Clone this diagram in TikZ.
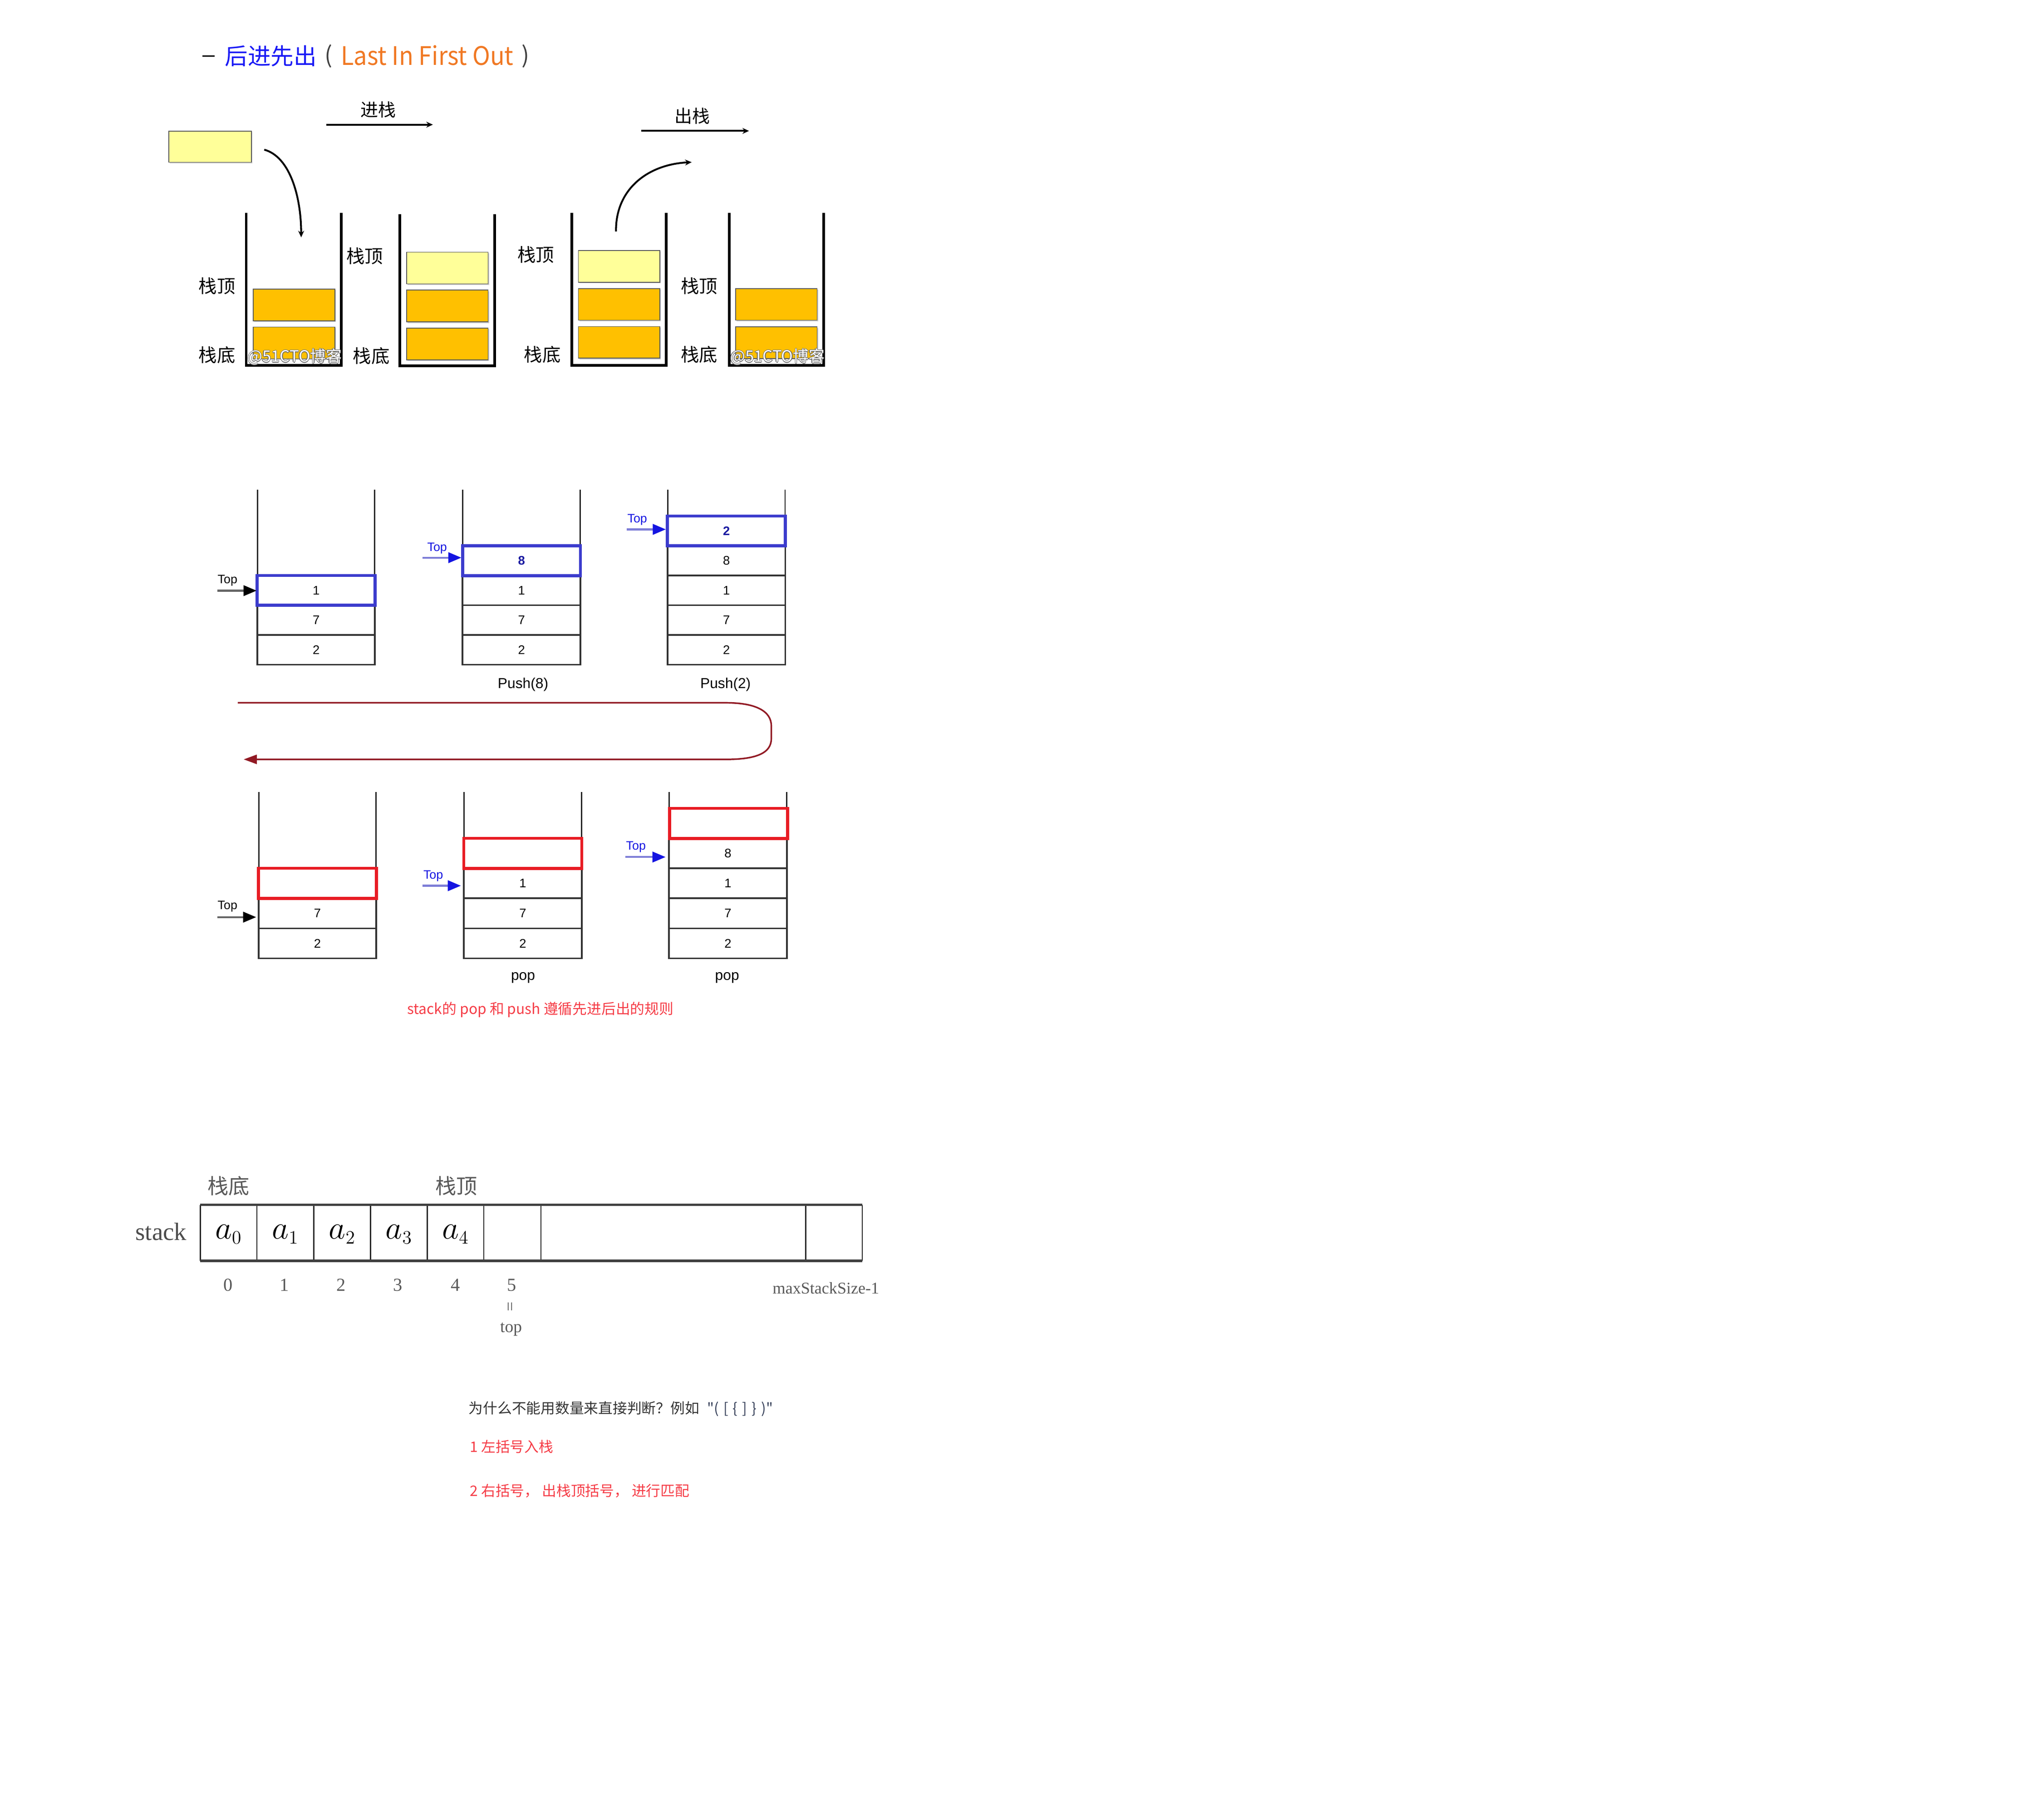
\documentclass[tikz,border=0pt]{standalone}
\usepackage{fontspec}
\setmainfont{Liberation Sans}
\newfontfamily\cjk{Noto Sans CJK SC}
\newfontfamily\srf{Liberation Serif}
\usetikzlibrary{arrows.meta,shadows}
\definecolor{titleblue}{RGB}{25,25,245}
\definecolor{titleorange}{RGB}{240,120,35}
\definecolor{boxorange}{RGB}{255,192,0}
\definecolor{boxyellow}{RGB}{255,255,153}
\definecolor{cellblue}{RGB}{60,60,205}
\definecolor{cellred}{RGB}{232,28,36}
\definecolor{topblue}{RGB}{20,20,225}
\definecolor{numblue}{RGB}{25,25,160}
\definecolor{shaftblue}{RGB}{125,125,215}
\definecolor{retred}{RGB}{145,25,35}
\definecolor{notered}{RGB}{245,60,70}
\definecolor{qgray}{RGB}{51,51,51}
\definecolor{codecol}{RGB}{55,65,90}
\begin{document}
\begin{tikzpicture}[x=0.995pt,y=-0.995pt,
  every node/.style={inner sep=0pt,outer sep=0pt},
  wall/.style={line width=2pt,line join=miter,black},
  blk/.style={draw=black!65,line width=0.6pt,minimum width=62.2pt,minimum height=24.2pt,
     drop shadow={shadow xshift=0.8pt,shadow yshift=-0.8pt,fill=black!35,opacity=0.6}},
  oblk/.style={blk,fill=boxorange},
  yblk/.style={blk,fill=boxyellow},
  cjklab/.style={font=\cjk\fontsize{14}{14}\selectfont},
  opline/.style={line width=1.4pt,-{Stealth[length=5pt,width=4.5pt]}},
  curvearr/.style={line width=1.4pt,-{Stealth[length=5pt,width=4.5pt]}},
  thinwall/.style={line width=1pt,black!85,line join=miter},
  cell/.style={draw=black!80,line width=1.2pt,minimum width=90pt,minimum height=22.8pt,
     font=\fontsize{9.5}{9.5}\selectfont},
  bluecell/.style={cell,draw=cellblue,line width=2.3pt},
  redcell/.style={cell,draw=cellred,line width=2.3pt},
  toplab/.style={font=\fontsize{9.3}{9.3}\selectfont},
  topblk/.style={draw=black!60,line width=1.5pt,-{Triangle[length=10pt,width=8pt,color=black]}},
  topblu/.style={draw=shaftblue,line width=1.5pt,-{Triangle[length=10pt,width=8pt,color=topblue]}},
  caplab/.style={font=\fontsize{11}{11}\selectfont},
  retline/.style={draw=retred,line width=1.2pt,-{Triangle[length=10pt,width=7pt]}},
  wmk/.style={font=\cjk\fontsize{12}{12}\selectfont},
  arrlab/.style={font=\srf\fontsize{14}{14}\selectfont,text=black!65},
  note/.style={font=\cjk\fontsize{11}{11}\selectfont,anchor=west}
]
\useasboundingbox (0,0) rectangle (1567.8,1392);

% ---------- title ----------
\node (dash) at (160,43) {\rule{9.5pt}{1.2pt}};
\node[font=\cjk\fontsize{17.5}{17.5}\selectfont,text=titleblue,anchor=west] (lifo) at (172.5,43) {后进先出};
\node[font=\cjk\fontsize{17.5}{17.5}\selectfont,text=black!75] (lpar) at (252,43) {(};
\node[font=\cjk\fontsize{19.5}{19.5}\selectfont,text=titleorange,anchor=west] (lifoen) at (261.5,42.5) {\scalebox{0.93}[1]{Last In First Out}};
\node[font=\cjk\fontsize{17.5}{17.5}\selectfont,text=black!75] (rpar) at (403,43) {)};

% ---------- push / pop arrows ----------
\node[font=\cjk\fontsize{13.5}{13.5}\selectfont] (pushlab) at (290,84) {进栈};
\coordinate (pushs) at (250.4,95.6);
\coordinate (pushe) at (332,95.6);
\draw[opline] (pushs) -- (pushe);
\node[font=\cjk\fontsize{13.5}{13.5}\selectfont] (poplab) at (531,89) {出栈};
\coordinate (pops) at (491.9,100.4);
\coordinate (pope) at (574.5,100.4);
\draw[opline] (pops) -- (pope);

% new element
\node[yblk,minimum width=63pt,minimum height=23.8pt] (newel) at (161.1,112.45) {};
\coordinate (c1s) at (202.7,114.8);
\coordinate (c1e) at (231,182);
\draw[curvearr] (c1s) .. controls (222,120) and (231,150) .. (c1e);
\coordinate (c2s) at (472.5,177.5);
\coordinate (c2e) at (530.5,124.4);
\draw[curvearr] (c2s) .. controls (472,145) and (497,126) .. (c2e);

% containers
\draw[wall] (188.8,163.1) -- (188.8,280.1) -- (261.7,280.1) -- (261.7,163.1);
\draw[wall] (306.7,164.2) -- (306.7,280.6) -- (379.3,280.6) -- (379.3,164.2);
\draw[wall] (438.6,163.1) -- (438.6,280.1) -- (510.9,280.1) -- (510.9,163.1);
\draw[wall] (559.5,163.1) -- (559.5,280.1) -- (631.8,280.1) -- (631.8,163.1);

% blocks
\node[oblk] (s1b2) at (225.55,233.85) {};
\node[oblk] (s1b1) at (225.55,263.0) {};
\node[yblk] (s2b3) at (343.15,205.55) {};
\node[oblk] (s2b2) at (343.15,234.7) {};
\node[oblk] (s2b1) at (343.15,263.75) {};
\node[yblk] (s3b3) at (474.85,204.35) {};
\node[oblk] (s3b2) at (474.85,233.45) {};
\node[oblk] (s3b1) at (474.85,262.6) {};
\node[oblk] (s4b2) at (595.5,233.45) {};
\node[oblk] (s4b1) at (595.5,262.85) {};

% labels
\node[cjklab] (t1) at (166.4,219.4) {栈顶};
\node[cjklab] (b1) at (166.4,272.2) {栈底};
\node[cjklab] (t2) at (279.8,196.3) {栈顶};
\node[cjklab] (b2) at (284.8,273) {栈底};
\node[cjklab] (t3) at (411,195.4) {栈顶};
\node[cjklab] (b3) at (416,272) {栈底};
\node[cjklab] (t4) at (536.4,219.4) {栈顶};
\node[cjklab] (b4) at (536.4,272) {栈底};

% watermarks
\foreach \dx/\dy in {-0.5/0,0.5/0,0/-0.5,0/0.5} {
  \node[wmk,text=black!60,xshift=\dx pt,yshift=\dy pt] at (226,273.6) {@51CTO博客};
  \node[wmk,text=black!60,xshift=\dx pt,yshift=\dy pt] at (596.3,273.6) {@51CTO博客};
}
\node[wmk,text=white] (wm1) at (226,273.6) {@51CTO博客};
\node[wmk,text=white] (wm2) at (596.3,273.6) {@51CTO博客};

% ---------- row 1 (push) ----------
\draw[thinwall] (197.5,375.5) -- (197.5,509.8) -- (287.5,509.8) -- (287.5,375.5);
\node[cell] (a2) at (242.5,498.4) {2};
\node[cell] (a7) at (242.5,475.6) {7};
\node[bluecell] (a1) at (242.5,452.8) {1};
\node[toplab] (atop) at (174.5,445.3) {Top};
\coordinate (aas) at (166.8,453);
\coordinate (aae) at (196.8,453);
\draw[topblk] (aas) -- (aae);

\draw[thinwall] (355,375.5) -- (355,509.8) -- (445,509.8) -- (445,375.5);
\node[cell] (b2c) at (400,498.4) {2};
\node[cell] (b7c) at (400,475.6) {7};
\node[cell] (b1c) at (400,452.8) {1};
\node[bluecell,font=\bfseries\fontsize{9.5}{9.5}\selectfont,text=numblue] (b8c) at (400,430) {8};
\node[toplab,text=topblue] (btop) at (335.3,420.5) {Top};
\coordinate (bas) at (323.9,427.7);
\coordinate (bae) at (353.9,427.7);
\draw[topblu] (bas) -- (bae);
\node[caplab] (push8) at (401.2,525) {Push(8)};

\draw[thinwall] (512.2,375.5) -- (512.2,509.8) -- (602.2,509.8) -- (602.2,375.5);
\node[cell] (c2c) at (557.2,498.4) {2};
\node[cell] (c7c) at (557.2,475.6) {7};
\node[cell] (c1c) at (557.2,452.8) {1};
\node[cell] (c8c) at (557.2,430) {8};
\node[bluecell,font=\bfseries\fontsize{9.5}{9.5}\selectfont,text=numblue] (c2t) at (557.2,407.2) {2};
\node[toplab,text=topblue] (ctop) at (488.8,398.5) {Top};
\coordinate (cas) at (480.7,406);
\coordinate (cae) at (510.7,406);
\draw[topblu] (cas) -- (cae);
\node[caplab] (push2) at (556.5,525) {Push(2)};

% return arrow
\coordinate (rs) at (182.4,539);
\coordinate (re) at (186.9,582.4);
\draw[retline] (rs) -- (557,539) .. controls (580,539) and (591.6,545.6) .. (591.6,556.6)
  -- (591.6,566.6) .. controls (591.6,577.6) and (580,582.4) .. (557,582.4) -- (re);

% ---------- row 2 (pop) ----------
\draw[thinwall] (198.5,607.5) -- (198.5,735) -- (288.5,735) -- (288.5,607.5);
\node[cell,minimum height=23pt] (d2) at (243.5,723.5) {2};
\node[cell,minimum height=23pt] (d7) at (243.5,700.5) {7};
\node[redcell,minimum height=23pt] (dr) at (243.5,677.5) {};
\node[toplab] (dtop) at (174.5,695.3) {Top};
\coordinate (das) at (166.8,703.4);
\coordinate (dae) at (196.5,703.4);
\draw[topblk] (das) -- (dae);

\draw[thinwall] (356,607.5) -- (356,735) -- (446,735) -- (446,607.5);
\node[cell,minimum height=23pt] (e2) at (401,723.5) {2};
\node[cell,minimum height=23pt] (e7) at (401,700.5) {7};
\node[cell,minimum height=23pt] (e1) at (401,677.5) {1};
\node[redcell,minimum height=23pt] (er) at (401,654.5) {};
\node[toplab,text=topblue] (etop) at (332.3,671.7) {Top};
\coordinate (eas) at (323.9,679.3);
\coordinate (eae) at (353.5,679.3);
\draw[topblu] (eas) -- (eae);
\node[caplab] (pop1) at (401.2,750) {pop};

\draw[thinwall] (513.3,607.5) -- (513.3,735) -- (603.3,735) -- (603.3,607.5);
\node[cell,minimum height=23pt] (f2) at (558.3,723.5) {2};
\node[cell,minimum height=23pt] (f7) at (558.3,700.5) {7};
\node[cell,minimum height=23pt] (f1) at (558.3,677.5) {1};
\node[cell,minimum height=23pt] (f8) at (558.3,654.5) {8};
\node[redcell,minimum height=23pt] (fr) at (558.8,631.5) {};
\node[toplab,text=topblue] (ftop) at (487.8,649.7) {Top};
\coordinate (fas) at (479.8,657.3);
\coordinate (fae) at (510.5,657.3);
\draw[topblu] (fas) -- (fae);
\node[caplab] (pop2) at (557.7,750) {pop};

\node[font=\cjk\fontsize{11}{11}\selectfont,text=notered] (rule) at (414.5,774.5) {stack的 pop 和 push 遵循先进后出的规则};

% ---------- array ----------
\foreach \xx in {153.6,197,240.8,284.2,327.7,371.1,414.9,618,661.4}
  \draw[line width=0.9pt,black!85] (\xx,924) -- (\xx,967);
\draw[line width=2pt,black!75] (153.6,924) -- (661.4,924);
\draw[line width=2pt,black!75] (153.6,967) -- (661.4,967);
\node[font=\fontsize{30}{30}\selectfont] (a0n) at (175.3,946.5) {$a_{\scriptscriptstyle 0}$};
\node[font=\fontsize{30}{30}\selectfont] (a1n) at (218.9,946.5) {$a_{\scriptscriptstyle 1}$};
\node[font=\fontsize{30}{30}\selectfont] (a2n) at (262.5,946.5) {$a_{\scriptscriptstyle 2}$};
\node[font=\fontsize{30}{30}\selectfont] (a3n) at (306,946.5) {$a_{\scriptscriptstyle 3}$};
\node[font=\fontsize{30}{30}\selectfont] (a4n) at (349.4,946.5) {$a_{\scriptscriptstyle 4}$};
\node[font=\srf\fontsize{19}{19}\selectfont,text=black!70] (stk) at (123.5,944.5) {stack};
\node[font=\cjk\fontsize{16}{16}\selectfont,text=black!65] (bot) at (175.4,909.5) {栈底};
\node[font=\cjk\fontsize{16}{16}\selectfont,text=black!65] (topc) at (350,909.5) {栈顶};
\node[arrlab] (i0) at (175.1,985.5) {0};
\node[arrlab] (i1) at (218.2,985.5) {1};
\node[arrlab] (i2) at (261.6,985.5) {2};
\node[arrlab] (i3) at (305,985.5) {3};
\node[arrlab] (i4) at (349.2,985.5) {4};
\node[arrlab] (i5) at (392.6,985.5) {5};
\node[font=\srf\fontsize{13}{13}\selectfont,text=black!65,rotate=90] (eqs) at (392.6,1002) {=};
\node[arrlab,font=\srf\fontsize{13}{13}\selectfont] (topw) at (392,1019.5) {top};
\node[font=\srf\fontsize{12.5}{12.5}\selectfont,text=black!65] (maxs) at (633.5,988) {maxStackSize-1};

% ---------- notes ----------
\node[note,text=qgray] (q) at (359.5,1080.5) {为什么不能用数量来直接判断？例如\hspace{6pt}\textcolor{codecol}{"(\hspace{3.5pt}[\hspace{3.5pt}\{\hspace{3.5pt}]\hspace{3.5pt}\}\hspace{3.5pt})"}};
\node[note,text=notered] (n1) at (360.5,1109.5) {1 左括号入栈};
\node[note,text=notered] (n2) at (360.5,1143.5) {2 右括号，\ 出栈顶括号，\ 进行匹配};
\end{tikzpicture}
\end{document}
